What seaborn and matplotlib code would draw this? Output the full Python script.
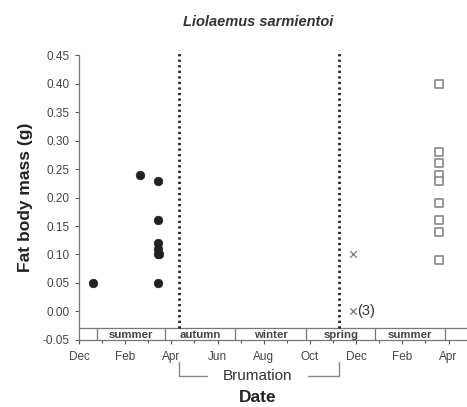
import numpy as np
import pandas as pd
import matplotlib
matplotlib.use("Agg")
import matplotlib.pyplot as plt
import seaborn as sns

# x = months since 1 December of the first year
month_ticks = [0, 2, 4, 6, 8, 10, 12, 14, 16]
month_labels = ["Dec", "Feb", "Apr", "Jun", "Aug", "Oct", "Dec", "Feb", "Apr"]

circ_x = [0.62, 2.65, 3.43, 3.43, 3.43, 3.43, 3.43, 3.45, 3.43]
circ_y = [0.05, 0.24, 0.23, 0.16, 0.12, 0.11, 0.10, 0.10, 0.05]

cross_x = [11.85, 11.85]
cross_y = [0.10, 0.00]

sq_x = [15.6] * 9
sq_y = [0.40, 0.28, 0.26, 0.24, 0.23, 0.19, 0.16, 0.14, 0.09]

season_edges = [0.77, 3.72, 6.77, 9.85, 12.83, 15.85]
season_names = ["summer", "autumn", "winter", "spring", "summer"]
brumation = [4.34, 11.27]

sns.set_style("ticks")
plt.rcParams["font.family"] = ["Liberation Sans", "DejaVu Sans"]

fig = plt.figure(figsize=(4.67, 4.07), dpi=100)
ax = fig.add_axes([79 / 467, 67.3 / 407, 388 / 467, 284.2 / 407])

df_c = pd.DataFrame({"x": circ_x, "y": circ_y})
df_x = pd.DataFrame({"x": cross_x, "y": cross_y})
df_s = pd.DataFrame({"x": sq_x, "y": sq_y})

sns.scatterplot(data=df_c, x="x", y="y", ax=ax, color="#222222", s=38,
                edgecolor="#222222", linewidth=0.5, zorder=3)
sns.scatterplot(data=df_x, x="x", y="y", ax=ax, color="#777777", marker="x",
                s=22, linewidth=0.9, zorder=3)
sns.scatterplot(data=df_s, x="x", y="y", ax=ax, marker="s", s=28,
                facecolor="white", edgecolor="#888888", linewidth=1.2, zorder=3)

ax.text(cross_x[1] + 0.2, cross_y[1], "(3)", fontsize=10.5, color="#333333",
        va="center", ha="left")

ax.set_xlim(0, 16.8)
ax.set_ylim(-0.05, 0.45)
ax.set_xticks(month_ticks)
ax.set_xticklabels(month_labels)
ax.set_xticks(np.arange(0, 17, 1), minor=True)
ax.set_yticks(np.arange(-0.05, 0.451, 0.05))
ax.set_yticklabels([f"{v:.2f}" for v in np.arange(-0.05, 0.451, 0.05)])
ax.tick_params(axis="both", labelsize=8.5, colors="#555555", labelcolor="#444444",
               length=3, width=0.8)
ax.tick_params(axis="x", which="minor", length=2, width=0.8, colors="#555555")
ax.tick_params(axis="x", pad=5)
for sp in ["top", "right"]:
    ax.spines[sp].set_visible(False)
for sp in ["left", "bottom"]:
    ax.spines[sp].set_color("#777777")
    ax.spines[sp].set_linewidth(0.9)
ax.set_xlabel("")
ax.set_ylabel("Fat body mass (g)", fontsize=12.5, fontweight="bold", labelpad=7,
              color="#222222")

# season band
ax.axhline(-0.03, color="#777777", lw=0.9)
for e in season_edges:
    ax.plot([e, e], [-0.05, -0.03], color="#777777", lw=0.9)
for i, name in enumerate(season_names):
    ax.text((season_edges[i] + season_edges[i + 1]) / 2, -0.041, name,
            ha="center", va="center", fontsize=8.2, fontweight="bold", color="#444444")

# brumation lines and bracket
for b in brumation:
    ax.plot([b, b], [-0.03, 0.46], linestyle=(0, (0.8, 1.2)), color="#222222",
            lw=2, clip_on=False)
ax.plot([brumation[0], brumation[0], 5.55], [-0.089, -0.114, -0.114],
        color="#888888", lw=1, clip_on=False)
ax.plot([9.93, brumation[1], brumation[1]], [-0.114, -0.114, -0.089],
        color="#888888", lw=1, clip_on=False)
ax.text(7.75, -0.114, "Brumation", ha="center", va="center", fontsize=11,
        color="#333333", clip_on=False)

fig.text(258 / 467, 1 - 398 / 407, "Date", ha="center", va="center",
         fontsize=12.5, fontweight="bold", color="#222222")
fig.text(258 / 467, 1 - 22 / 407, "Liolaemus sarmientoi", ha="center", va="center",
         fontsize=10.5, fontweight="bold", fontstyle="italic", color="#333333")

fig.savefig("out.png", dpi=100)
